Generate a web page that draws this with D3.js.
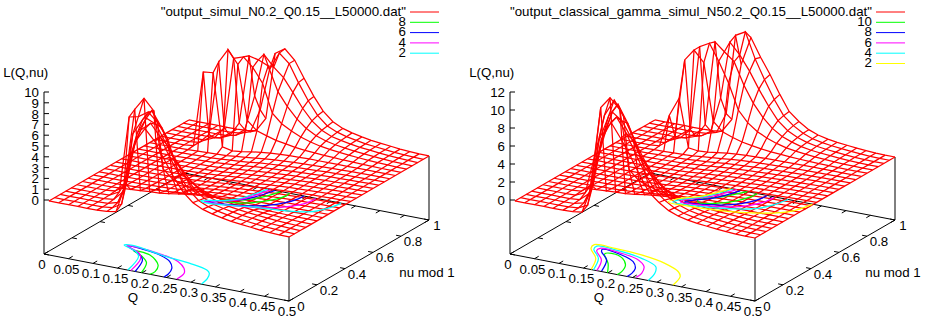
<!DOCTYPE html>
<html>
<head>
<meta charset="utf-8">
<script src="https://cdnjs.cloudflare.com/ajax/libs/d3/7.8.5/d3.min.js"></script>
<style>
  body { margin: 0; background: #fff; }
  text { font-family: "Liberation Sans", sans-serif; font-size: 13.3px; fill: #000; }
</style>
</head>
<body>
<div id="chart"></div>
<script>
const qs = [0.01,0.03,0.05,0.069,0.088,0.108,0.128,0.147,0.167,0.186,0.206,0.226,0.245,0.265,0.284,0.304,0.324,0.343,0.363,0.382,0.402,0.422,0.441,0.461,0.48,0.5]
const nus = [0,0.04,0.08,0.12,0.16,0.2,0.24,0.28,0.32,0.36,0.4,0.44,0.48,0.52,0.56,0.6,0.64,0.68,0.72,0.76,0.8,0.84,0.88,0.92,0.96,1]

const qTicks = [0,0.05,0.1,0.15,0.2,0.25,0.3,0.35,0.4,0.45,0.5]
const nuTicks = [0,0.2,0.4,0.6,0.8,1]
const zTicksLeft = [0,1,2,3,4,5,6,7,8,9,10]
const zTicksRight = [0,2,4,6,8,10,12]

const titleLeft = '"output_simul_N0.2_Q0.15__L50000.dat"'
const titleRight = '"output_classical_gamma_simul_N50.2_Q0.15__L50000.dat"'
const levelsLeft = ['8','6','4','2']
const levelsRight = ['10','8','6','4','2']
const lineColors = ['#ff0000','#00ff00','#0000ff','#ff00ff','#00ffff','#ffff00']

// L(Q,nu), one row per nu
const surfaceLeft = [
  [0,0,0,0,0,0,.05,.2,3,7,8.4,7.4,5.9,4.4,3.2,2.4,1.95,1.7,1.5,1.35,1.25,1.15,1.05,1,.95,.93],
  [0,0,0,0,0,0,.1,.6,5.5,7.8,8.6,7.5,5.8,4.3,3.1,2.3,1.9,1.65,1.48,1.33,1.23,1.13,1.05,1,.95,.92],
  [0,0,0,0,0,.02,.3,2.5,7,8.6,8.2,6.6,5.2,3.9,2.9,2.2,1.8,1.6,1.44,1.3,1.21,1.12,1.04,.99,.95,.92],
  [0,0,0,0,0,.1,1,6.5,8,9,7.6,5.4,4.2,3.2,2.5,2,1.68,1.5,1.37,1.25,1.17,1.09,1.02,.97,.94,.92],
  [0,0,0,0,.02,.5,7.6,7.8,8.4,7.6,6.3,3.7,2.9,2.4,2,1.72,1.5,1.37,1.27,1.18,1.11,1.05,1,.96,.93,.92],
  [0,0,0,.01,.1,1,8,9.2,8.2,3,2.2,1.9,1.65,1.5,1.35,1.25,1.18,1.12,1.08,1.03,1,.97,.95,.93,.92,.92],
  [0,0,0,.01,.06,.12,.18,.25,.3,.4,.55,.68,.78,.84,.88,.9,.92,.92,.92,.92,.92,.92,.92,.92,.92,.92],
  [0,0,0,0,.03,.06,.09,.12,.17,.25,.34,.44,.54,.62,.68,.73,.77,.8,.83,.85,.87,.89,.9,.91,.92,.92],
  [0,0,0,0,.02,.04,.07,.09,.14,.2,.27,.36,.46,.54,.6,.66,.71,.75,.79,.82,.85,.87,.89,.9,.91,.92],
  [0,0,0,0,.01,.03,.05,.08,.12,.18,.25,.33,.42,.5,.56,.62,.67,.72,.76,.8,.83,.86,.88,.9,.91,.92],
  [0,0,0,0,.01,.02,.04,.07,.1,.15,.22,.3,.38,.45,.52,.58,.64,.69,.74,.78,.81,.84,.87,.89,.91,.92],
  [0,0,0,0,.01,.02,.04,.06,.09,.14,.2,.28,.36,.43,.5,.56,.62,.68,.72,.77,.8,.84,.86,.89,.9,.92],
  [0,0,0,0,.01,.02,.03,.06,.09,.13,.2,.27,.35,.42,.49,.55,.61,.67,.72,.76,.8,.83,.86,.88,.9,.92],
  [0,0,0,0,.01,.02,.03,.06,.09,.13,.2,.27,.35,.42,.49,.55,.61,.67,.72,.76,.8,.83,.86,.88,.9,.92],
  [0,0,0,0,.01,.02,.04,.06,.09,.14,.2,.28,.36,.43,.5,.56,.62,.68,.72,.77,.8,.84,.86,.89,.9,.92],
  [0,0,0,0,.01,.02,.04,.07,.1,.15,.22,.3,.38,.45,.52,.58,.64,.69,.74,.78,.81,.84,.87,.89,.91,.92],
  [0,0,0,0,.01,.03,.05,.08,.12,.18,.25,.33,.42,.5,.56,.62,.67,.72,.76,.8,.83,.86,.88,.9,.91,.92],
  [0,0,0,0,.02,.04,.07,.09,.14,.2,.27,.36,.46,.54,.6,.66,.71,.75,.79,.82,.85,.87,.89,.9,.91,.92],
  [0,0,0,0,.03,.06,.09,.12,.17,.25,.34,.44,.54,.62,.68,.73,.77,.8,.83,.85,.87,.89,.9,.91,.92,.92],
  [0,0,0,.01,.1,7.1,7.2,.5,.3,.4,.55,.68,.78,.84,.88,.9,.92,.92,.92,.92,.92,.92,.92,.92,.92,.92],
  [0,0,0,.01,.1,1,7.9,9.2,8,3,2.2,1.9,1.65,1.5,1.35,1.25,1.18,1.12,1.08,1.03,1,.97,.95,.93,.92,.92],
  [0,0,0,0,.02,.4,1.5,8.1,8.4,7.6,6.3,3.7,2.9,2.4,2,1.72,1.5,1.37,1.27,1.18,1.11,1.05,1,.96,.93,.92],
  [0,0,0,0,0,.1,.5,1.8,8.2,8,7.6,5.4,4.2,3.2,2.5,2,1.68,1.5,1.37,1.25,1.17,1.09,1.02,.97,.94,.92],
  [0,0,0,0,0,.02,.2,.9,4.2,8.2,7.2,6.4,5.2,3.9,2.9,2.2,1.8,1.6,1.44,1.3,1.21,1.12,1.04,.99,.95,.92],
  [0,0,0,0,0,0,.1,.4,2.6,6.5,8.2,7.4,5.8,4.3,3.1,2.3,1.9,1.65,1.48,1.33,1.23,1.13,1.05,1,.95,.92],
  [0,0,0,0,0,0,.05,.2,1.5,7.7,8.3,7.4,5.9,4.4,3.2,2.4,1.95,1.7,1.5,1.35,1.25,1.15,1.05,1,.95,.93]
]

const surfaceRight = [
  [0,0,0,0,0,0,.05,.2,3.2,8.6,10.8,9.2,7.5,5.5,3.8,2.9,2.2,1.8,1.55,1.4,1.28,1.18,1.1,1.03,1,1],
  [0,0,0,0,0,0,.1,.6,6,9.6,11,9.4,7.3,5.3,3.7,2.8,2.15,1.75,1.52,1.38,1.26,1.16,1.08,1.03,1,1],
  [0,0,0,0,0,.02,.3,2.6,8.2,11,10.2,8.4,6.6,4.9,3.5,2.6,2.05,1.7,1.48,1.35,1.24,1.15,1.07,1.02,1,1],
  [0,0,0,0,0,.1,1,7,10,11.5,9.6,7.2,5.4,4,3,2.3,1.9,1.6,1.4,1.29,1.2,1.12,1.05,1.01,1,1],
  [0,0,0,0,.02,.5,5,9.5,11.4,9.8,7.6,4.8,3.6,2.8,2.3,1.9,1.62,1.45,1.32,1.22,1.15,1.09,1.04,1.01,1,1],
  [0,0,0,.01,.1,1,9.8,11.1,10,3.5,2.5,2.1,1.8,1.6,1.45,1.33,1.25,1.18,1.12,1.08,1.05,1.02,1,1,1,1],
  [0,0,0,.01,.06,.12,.18,.25,.3,.42,.58,.72,.82,.88,.92,.95,.97,.98,.99,1,1,1,1,1,1,1],
  [0,0,0,0,.03,.06,.09,.12,.17,.27,.37,.48,.59,.68,.74,.79,.84,.87,.9,.93,.95,.97,.98,.99,1,1],
  [0,0,0,0,.02,.04,.07,.09,.14,.22,.29,.39,.5,.59,.65,.72,.77,.82,.86,.89,.92,.95,.97,.98,.99,1],
  [0,0,0,0,.01,.03,.05,.08,.12,.2,.27,.36,.45,.54,.61,.67,.73,.78,.83,.87,.9,.93,.96,.98,.99,1],
  [0,0,0,0,.01,.02,.04,.07,.11,.16,.24,.32,.41,.49,.56,.63,.7,.75,.8,.85,.88,.91,.94,.97,.99,1],
  [0,0,0,0,.01,.02,.04,.06,.1,.15,.22,.3,.39,.47,.54,.61,.67,.74,.78,.84,.87,.91,.93,.97,.98,1],
  [0,0,0,0,.01,.02,.03,.06,.1,.14,.22,.29,.38,.46,.53,.6,.66,.73,.78,.83,.87,.9,.93,.96,.98,1],
  [0,0,0,0,.01,.02,.03,.06,.1,.14,.22,.29,.38,.46,.53,.6,.66,.73,.78,.83,.87,.9,.93,.96,.98,1],
  [0,0,0,0,.01,.02,.04,.06,.1,.15,.22,.3,.39,.47,.54,.61,.67,.74,.78,.84,.87,.91,.93,.97,.98,1],
  [0,0,0,0,.01,.02,.04,.07,.11,.16,.24,.32,.41,.49,.56,.63,.7,.75,.8,.85,.88,.91,.94,.97,.99,1],
  [0,0,0,0,.01,.03,.05,.08,.12,.2,.27,.36,.45,.54,.61,.67,.73,.78,.83,.87,.9,.93,.96,.98,.99,1],
  [0,0,0,0,.02,.04,.07,.09,.14,.22,.29,.39,.5,.59,.65,.72,.77,.82,.86,.89,.92,.95,.97,.98,.99,1],
  [0,0,0,0,.03,.06,.09,.12,.17,.27,.37,.48,.59,.68,.74,.79,.84,.87,.9,.93,.95,.97,.98,.99,1,1],
  [0,0,0,.01,.1,3.7,5.8,.5,.35,.42,.58,.72,.82,.88,.92,.95,.97,.98,.99,1,1,1,1,1,1,1],
  [0,0,0,.01,.1,1,9.7,11,9.8,3.5,2.5,2.1,1.8,1.6,1.45,1.33,1.25,1.18,1.12,1.08,1.05,1.02,1,1,1,1],
  [0,0,0,0,.02,.5,1.6,11,11.6,9.8,7.6,4.8,3.6,2.8,2.3,1.9,1.62,1.45,1.32,1.22,1.15,1.09,1.04,1.01,1,1],
  [0,0,0,0,0,.1,.5,2,11.4,10.5,9.6,7.2,5.4,4,3,2.3,1.9,1.6,1.4,1.29,1.2,1.12,1.05,1.01,1,1],
  [0,0,0,0,0,.02,.2,.9,4.8,11.2,10,8.4,6.6,4.9,3.5,2.6,2.05,1.7,1.48,1.35,1.24,1.15,1.07,1.02,1,1],
  [0,0,0,0,0,0,.1,.4,2.7,11.6,12.2,9.4,7.3,5.3,3.7,2.8,2.15,1.75,1.52,1.38,1.26,1.16,1.08,1.03,1,1],
  [0,0,0,0,0,0,.05,.2,1.7,8,11.2,9.2,7.5,5.5,3.8,2.9,2.2,1.8,1.55,1.4,1.28,1.18,1.1,1.03,1,1]
]

// contour crescents on the base, [Q, nu] around the nu=0 end (the nu=1 end mirrors it)
const contoursLeft = [
  [[.198,.004],[.18,.102],[.155,.155],[.128,.19],[.165,.179],[.204,.101],[.217,.034],[.2155,0]],
  [[.186,0],[.167,.119],[.15,.161],[.108,.224],[.14,.22],[.18,.197],[.213,.153],[.234,.094],[.2435,.036],[.2446,0]],
  [[.177,0],[.161,.126],[.144,.176],[.105,.224],[.13,.228],[.1855,.203],[.226,.168],[.2525,.116],[.266,.07],[.27,.004]],
  [[.171,0],[.152,.143],[.135,.185],[.099,.226],[.113,.238],[.195,.193],[.2485,.173],[.292,.141],[.3045,.115],[.315,.065],[.321,.002]]
]

const contoursRight = [
  [[.199,0],[.175,.088],[.145,.168],[.154,.187],[.181,.165],[.206,.104],[.218,.035],[.219,0]],
  [[.1855,.005],[.164,.116],[.134,.185],[.129,.208],[.174,.189],[.209,.148],[.23,.09],[.238,.037],[.239,0]],
  [[.177,0],[.156,.107],[.124,.185],[.123,.213],[.169,.205],[.2125,.173],[.239,.121],[.253,.055],[.255,.008]],
  [[.17,0],[.147,.117],[.116,.193],[.112,.228],[.157,.224],[.213,.194],[.257,.142],[.273,.079],[.282,0]],
  [[.165,.002],[.143,.112],[.109,.197],[.1045,.236],[.146,.239],[.204,.225],[.262,.189],[.305,.135],[.321,.092],[.332,.003]]
]

const svg = d3.select('#chart')
  .append('svg')
  .attr('width', 927)
  .attr('height', 322)

// oblique view: each data axis contributes a fixed screen offset
const xOfQ = d3.scaleLinear().domain([0, 0.5]).range([0, 245])
const yOfQ = d3.scaleLinear().domain([0, 0.5]).range([0, 47])
const xOfNu = d3.scaleLinear().domain([0, 1]).range([0, 140])
const yOfNu = d3.scaleLinear().domain([0, 1]).range([0, -81])

function Plot (opts) {
  const { left, zMax, zTicks, surface, contours, title, levels } = opts
  const zScale = d3.scaleLinear().domain([0, zMax]).range([200, 92])

  const px = (q, nu) => 44 + xOfQ(q) + xOfNu(nu)
  const by = (q, nu) => 254 + yOfQ(q) + yOfNu(nu)
  const py = (q, nu, z) => zScale(z) + yOfQ(q) + yOfNu(nu)
  const g = svg.append('g').attr('transform', `translate(${left}, 0)`)

  const line = d3.line().x(d => d[0]).y(d => d[1])
  const seg = (a, b) => line([a, b])

  // box
  const box = g.append('g').attr('stroke', '#000').attr('stroke-width', 1).attr('fill', 'none')
  const corners = [[0, 0], [0.5, 0], [0.5, 1], [0, 1], [0, 0]]
  box.append('path').attr('d', line(corners.map(c => [px(c[0], c[1]), by(c[0], c[1])])))
  box.append('path').attr('d', seg([px(0, 0), by(0, 0)], [px(0, 0), zScale(zMax)]))
  const front = surface[0][qs.length - 1]
  const back = surface[nus.length - 1][qs.length - 1]
  box.append('path').attr('d', seg([px(0.5, 0), by(0.5, 0)], [px(0.5, 0), py(0.5, 0, front)]))
  box.append('path').attr('d', seg([px(0.5, 1), by(0.5, 1)], [px(0.5, 1), py(0.5, 1, back)]))

  // ticks, mirrored on the far sides
  qTicks.forEach(q => {
    box.append('path').attr('d', seg([px(q, 0), by(q, 0)], [px(q, 0.03), by(q, 0.03)]))
    box.append('path').attr('d', seg([px(q, 1), by(q, 1)], [px(q, 0.97), by(q, 0.97)]))
  })
  nuTicks.forEach(nu => {
    box.append('path').attr('d', seg([px(0.5, nu), by(0.5, nu)], [px(0.49, nu), by(0.49, nu)]))
    box.append('path').attr('d', seg([px(0, nu), by(0, nu)], [px(0.01, nu), by(0.01, nu)]))
  })
  zTicks.forEach(z => {
    box.append('path').attr('d', seg([px(0, 0), zScale(z)], [px(0, 0) + 5, zScale(z)]))
  })

  // surface: lines of constant nu, then constant Q
  const mesh = g.append('g').attr('fill', 'none').attr('stroke', '#ff0000').attr('stroke-width', 1.25)
  mesh.selectAll('path.nu')
    .data(surface)
    .enter()
    .append('path')
    .attr('class', 'nu')
    .attr('d', (row, j) => line(row.map((z, i) => [px(qs[i], nus[j]), py(qs[i], nus[j], z)])))
  mesh.selectAll('path.q')
    .data(qs)
    .enter()
    .append('path')
    .attr('class', 'q')
    .attr('d', (q, i) => line(surface.map((row, j) => [px(q, nus[j]), py(q, nus[j], row[i])])))

  // contours at both ends of nu
  const curve = d3.line().curve(d3.curveCatmullRom.alpha(0.5))
  const cg = g.append('g').attr('fill', 'none').attr('stroke-width', 1.25)
  contours.forEach((c, k) => {
    const color = lineColors[k + 1]
    cg.append('path').attr('stroke', color)
      .attr('d', curve(c.map(d => [px(d[0], d[1]), by(d[0], d[1])])))
    cg.append('path').attr('stroke', color)
      .attr('d', curve(c.map(d => [px(d[0], 1 - d[1]), by(d[0], 1 - d[1])])))
  })

  // tick labels
  g.selectAll('text.q')
    .data(qTicks)
    .enter()
    .append('text')
    .attr('class', 'q')
    .attr('x', d => px(d, 0) - 2)
    .attr('y', d => by(d, 0) + 15)
    .attr('text-anchor', 'middle')
    .text(d => d)
  g.selectAll('text.nu')
    .data(nuTicks)
    .enter()
    .append('text')
    .attr('class', 'nu')
    .attr('x', d => px(0.5, d) + 12 - (d === 1 ? 4 : 0))
    .attr('y', d => by(0.5, d) + 10)
    .attr('text-anchor', 'middle')
    .text(d => d)
  g.selectAll('text.z')
    .data(zTicks)
    .enter()
    .append('text')
    .attr('class', 'z')
    .attr('x', -5 + px(0, 0))
    .attr('y', d => zScale(d) + 5)
    .attr('text-anchor', 'end')
    .text(d => d)

  g.append('text').attr('x', 133).attr('y', 302).attr('text-anchor', 'middle').text('Q')
  g.append('text').attr('x', 427).attr('y', 277).attr('text-anchor', 'middle').text('nu mod 1')
  g.append('text').attr('x', 25.7).attr('y', 77).attr('text-anchor', 'middle').text('L(Q,nu)')

  // key
  const key = [title].concat(levels)
  const keyY = d3.scaleLinear().domain([0, 1]).range([12, 22.3])
  g.selectAll('text.key')
    .data(key)
    .enter()
    .append('text')
    .attr('class', 'key')
    .attr('x', 406)
    .attr('y', (d, i) => keyY(i) + 3.8)
    .attr('text-anchor', 'end')
    .text(d => d)
  g.selectAll('line.key')
    .data(key)
    .enter()
    .append('line')
    .attr('class', 'key')
    .attr('x1', 410)
    .attr('x2', 439)
    .attr('y1', (d, i) => keyY(i))
    .attr('y2', (d, i) => keyY(i))
    .attr('stroke', (d, i) => lineColors[i])
    .attr('stroke-width', 1)
}

Plot({ left: 0, zMax: 10, zTicks: zTicksLeft, surface: surfaceLeft, contours: contoursLeft, title: titleLeft, levels: levelsLeft })
Plot({ left: 466, zMax: 12, zTicks: zTicksRight, surface: surfaceRight, contours: contoursRight, title: titleRight, levels: levelsRight })
</script>
</body>
</html>
